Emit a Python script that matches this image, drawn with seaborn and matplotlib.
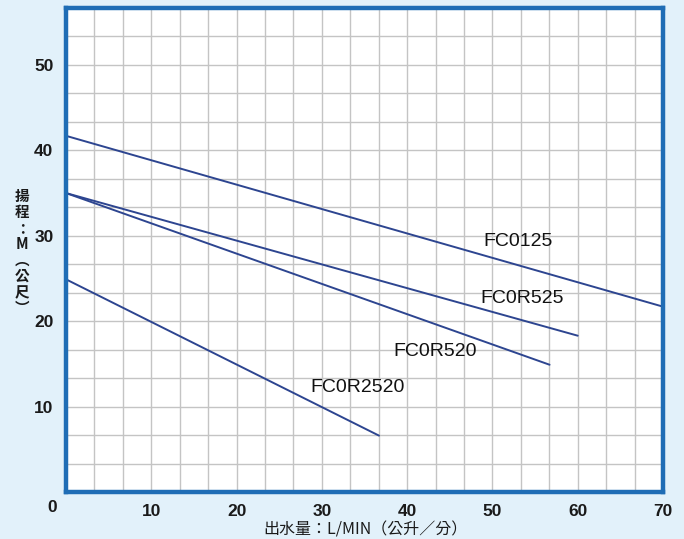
import matplotlib
matplotlib.use("Agg")
import matplotlib.pyplot as plt
import seaborn as sns
import pandas as pd
from matplotlib.ticker import MultipleLocator, FixedLocator

# Data
models = ["FC0125", "FC0R525", "FC0R520", "FC0R2520"]
flow_start = [0, 0, 0, 0]
flow_end = [70, 60, 56.7, 36.7]
head_start = [41.7, 35.0, 35.0, 24.9]
head_end = [21.7, 18.3, 14.9, 6.6]
label_x = [53.0, 53.5, 43.3, 34.2]
label_y = [29.3, 22.6, 16.4, 12.2]
x_ticks = [10, 20, 30, 40, 50, 60, 70]
y_ticks = [10, 20, 30, 40, 50]

rows = []
for m, x0, x1, y0, y1 in zip(models, flow_start, flow_end, head_start, head_end):
    rows.append({"model": m, "flow": x0, "head": y0})
    rows.append({"model": m, "flow": x1, "head": y1})
df = pd.DataFrame(rows)

sns.set_theme(style="white")
plt.rcParams['font.family'] = ['Liberation Sans', 'Noto Sans CJK TC', 'DejaVu Sans']

fig = plt.figure(figsize=(6.84, 5.39), dpi=100)
fig.patch.set_facecolor("#e2f1fa")
ax = fig.add_axes([66/684, 1-492/539, (663-66)/684, (492-8)/539])
ax.set_facecolor("white")

line_color = "#2d4590"
sns.lineplot(data=df, x="flow", y="head", units="model", estimator=None,
             color=line_color, linewidth=1.4, ax=ax, legend=False)

for m, lx, ly in zip(models, label_x, label_y):
    ax.text(lx, ly, m, fontsize=14, color="#111111", ha="center", va="center")

ax.set_xlim(0, 70)
ax.set_ylim(0, 170/3)
ax.xaxis.set_major_locator(FixedLocator(x_ticks))
ax.yaxis.set_major_locator(FixedLocator(y_ticks))
ax.xaxis.set_minor_locator(MultipleLocator(10/3))
ax.yaxis.set_minor_locator(MultipleLocator(10/3))
ax.grid(True, which="both", color="#c4c4c4", linewidth=1.0)
ax.set_axisbelow(True)
ax.tick_params(axis="both", which="both", length=0, labelsize=12.5, colors="#1a1a1a")
ax.tick_params(axis="x", pad=9)
ax.tick_params(axis="y", pad=9)
for lab in ax.get_xticklabels() + ax.get_yticklabels():
    lab.set_fontweight("bold")
for s in ax.spines.values():
    s.set_color("#1f6db5")
    s.set_linewidth(3.2)

ax.set_xlabel("")
ax.set_ylabel("")
fig.text(52/684, 1-508/539, "0", fontsize=12.5, fontweight="bold", color="#1a1a1a",
         ha="center", va="center")
fig.text(365/684, 1-530/539, "出水量：L/MIN（公升／分）", fontsize=11.5, color="#1a1a1a",
         ha="center", va="center", family=['Noto Sans CJK TC', 'DejaVu Sans'])
fig.text(22/684, 1-252/539, "揚\n程\n：\nM\n︵\n公\n尺\n︶", fontsize=10.5, color="#1a1a1a",
         ha="center", va="center", linespacing=1.0, fontweight="bold",
         family=['Noto Sans CJK TC', 'DejaVu Sans'])

fig.savefig("out.png", dpi=100, facecolor=fig.get_facecolor())
